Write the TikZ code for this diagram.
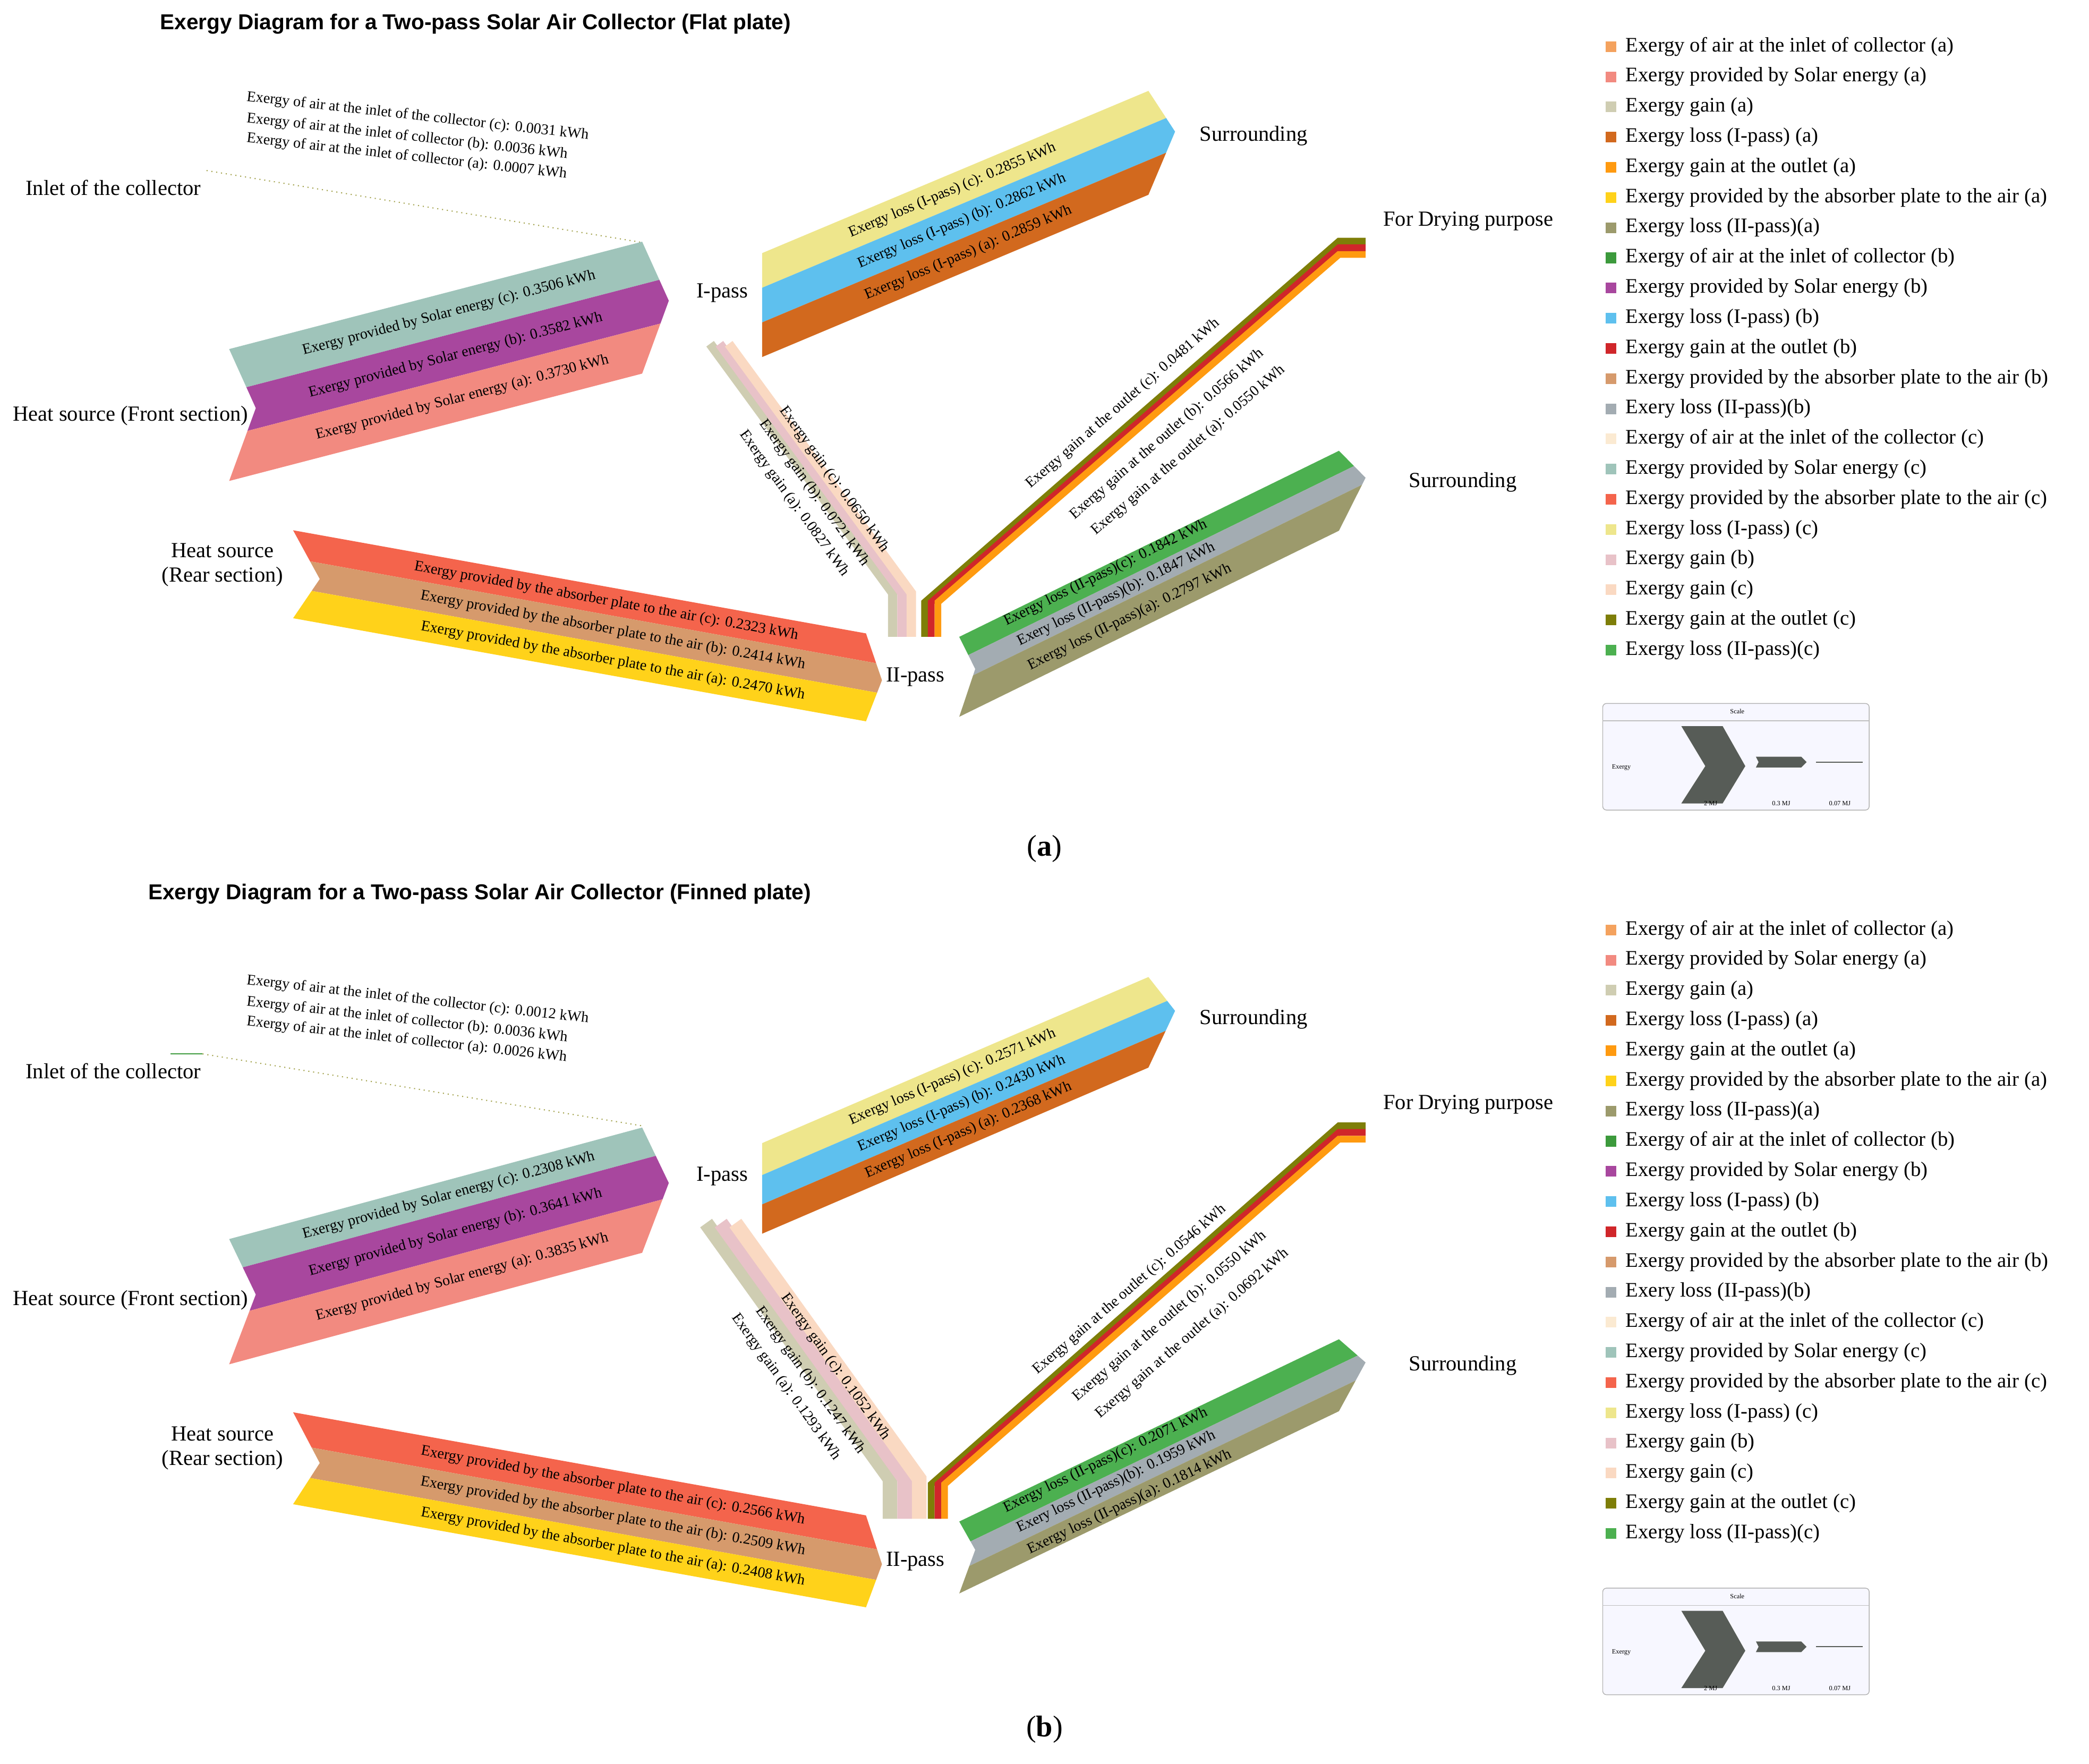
\documentclass[tikz,border=0pt]{standalone}
\usepackage{fontspec}
\setmainfont{Liberation Serif}
\newfontfamily\titlefont{Liberation Sans}
\usetikzlibrary{calc}

\definecolor{cInA}{HTML}{F4A25E}
\definecolor{cSolA}{HTML}{F28A80}
\definecolor{cGainA}{HTML}{CFCDB2}
\definecolor{cLossIA}{HTML}{D2691E}
\definecolor{cOutA}{HTML}{FF9A10}
\definecolor{cAbsA}{HTML}{FFD21A}
\definecolor{cLossIIA}{HTML}{9C9A6C}
\definecolor{cInB}{HTML}{3C9A3C}
\definecolor{cSolB}{HTML}{A8479E}
\definecolor{cLossIB}{HTML}{5EC0EE}
\definecolor{cOutB}{HTML}{D0262A}
\definecolor{cAbsB}{HTML}{D69A6C}
\definecolor{cLossIIB}{HTML}{A3ACB2}
\definecolor{cInC}{HTML}{FBEAD2}
\definecolor{cSolC}{HTML}{9FC4BA}
\definecolor{cAbsC}{HTML}{F4644C}
\definecolor{cLossIC}{HTML}{EEE68C}
\definecolor{cGainB}{HTML}{E8C2C8}
\definecolor{cGainC}{HTML}{FAD9C2}
\definecolor{cOutC}{HTML}{7E7E08}
\definecolor{cLossIIC}{HTML}{4CB050}
\definecolor{cScale}{HTML}{575C57}

% flow bundle: #1 length, #2 total height, #3 notch, #4 tip, #5 height/colour list
\newcommand\flow[5]{%
  \gdef\ycur{0}%
  \foreach \hh/\cc in {#5}{%
    \pgfmathsetmacro\ya{\ycur}%
    \pgfmathsetmacro\yb{\ycur+\hh}%
    \pgfmathsetmacro\ym{max(\ya,min(\yb,#2/2))}%
    \pgfmathsetmacro\xa{1-abs(\ya-#2/2)/(#2/2)}%
    \pgfmathsetmacro\xb{1-abs(\yb-#2/2)/(#2/2)}%
    \pgfmathsetmacro\xm{1-abs(\ym-#2/2)/(#2/2)}%
    \fill[\cc] (#3*\xa,\ya) -- (#1+#4*\xa,\ya) -- (#1+#4*\xm,\ym) -- (#1+#4*\xb,\yb)
      -- (#3*\xb,\yb) -- (#3*\xm,\ym) -- cycle;
    \xdef\ycur{\yb}%
  }}

% legend and scale key of one panel
\newcommand\legendkey[1]{%
  \foreach \col/\txt [count=\i from 0] in {cInA/Exergy of air at the inlet of collector (a),
    cSolA/Exergy provided by Solar energy (a), cGainA/Exergy gain (a),
    cLossIA/Exergy loss (I-pass) (a), cOutA/Exergy gain at the outlet (a),
    cAbsA/Exergy provided by the absorber plate to the air (a), cLossIIA/Exergy loss (II-pass)(a),
    cInB/Exergy of air at the inlet of collector (b), cSolB/Exergy provided by Solar energy (b),
    cLossIB/Exergy loss (I-pass) (b), cOutB/Exergy gain at the outlet (b),
    cAbsB/Exergy provided by the absorber plate to the air (b), cLossIIB/Exery loss (II-pass)(b),
    cInC/Exergy of air at the inlet of the collector (c), cSolC/Exergy provided by Solar energy (c),
    cAbsC/Exergy provided by the absorber plate to the air (c), cLossIC/Exergy loss (I-pass) (c),
    cGainB/Exergy gain (b), cGainC/Exergy gain (c), cOutC/Exergy gain at the outlet (c),
    cLossIIC/Exergy loss (II-pass)(c)}{%
    \node[leg, fill=\col] (sq\i) at (1209,#1+22.65*\i) {};
    \node[legtext] (lt\i) at (1220,#1+22.65*\i) {\txt};
  }}

\newcommand\scalekey[1]{%
  \begin{scope}[yshift=-#1*0.025cm]
    \draw[gray!60, fill=blue!3, rounded corners=2pt] (1203,528) rectangle (1403,608);
    \draw[gray!50] (1203,541) -- (1403,541);
    \node[tiny] (sct) at (1304,534) {Scale};
    \node[tiny] (sce) at (1217,576) {Exergy};
    \fill[cScale] (1262,545) -- (1293,545) -- (1310,575) -- (1293,603) -- (1262,603) -- (1280,575) -- cycle;
    \fill[cScale] (1318,568) -- (1352,568) -- (1356,572) -- (1352,576) -- (1318,576) -- (1320,572) -- cycle;
    \draw[cScale, line width=0.6pt] (1363,572) -- (1398,572);
    \node[tiny] (s1) at (1284,603) {2 MJ};
    \node[tiny] (s2) at (1337,603) {0.3 MJ};
    \node[tiny] (s3) at (1381,603) {0.07 MJ};
  \end{scope}}

\tikzset{
  lab/.style={font=\fontsize{11.5}{13}\selectfont, inner sep=1pt, align=center},
  blab/.style={font=\fontsize{8}{9}\selectfont, inner sep=0pt},
  ilab/.style={font=\fontsize{8}{9}\selectfont, anchor=west, inner sep=0pt, rotate=-6.4},
  title/.style={font=\titlefont\bfseries\fontsize{11.5}{13}\selectfont, anchor=west, inner sep=0pt},
  leg/.style={minimum size=0.2cm, inner sep=0pt},
  legtext/.style={font=\fontsize{11}{12}\selectfont, anchor=west, inner sep=0pt},
  tiny/.style={font=\fontsize{3.5}{4}\selectfont, inner sep=0pt},
  band/.style={line width=#1, line cap=butt, line join=miter},
  inlet/.style={cOutC!70, dotted, line width=0.6pt}
}

\begin{document}
\begin{tikzpicture}[x=0.025cm, y=-0.025cm]
\useasboundingbox (0,0) rectangle (1568,1324);

%%%%%%%% panel (a)
\node[title] (ta) at (120,18) {Exergy Diagram for a Two-pass Solar Air Collector (Flat plate)};

% inlet
\node[ilab] (ia1) at (185,73) {Exergy of air at the inlet of the collector (c): 0.0031 kWh};
\node[ilab] (ia2) at (185,89) {Exergy of air at the inlet of collector (b): 0.0036 kWh};
\node[ilab] (ia3) at (185,104) {Exergy of air at the inlet of collector (a): 0.0007 kWh};
\coordinate (inSa) at (155,128);
\coordinate (inEa) at (482,182);
\draw[inlet] (inSa) -- (inEa);

% front section
\begin{scope}[shift={(172,262)}, yslant=0.26]
  \flow{310}{99}{20}{20}{32/cSolC,33/cSolB,34/cSolA}
  \node[blab, rotate=14.6] (fa1) at (165,16) {Exergy provided by Solar energy (c): 0.3506 kWh};
  \node[blab, rotate=14.6] (fa2) at (170,49) {Exergy provided by Solar energy (b): 0.3582 kWh};
  \node[blab, rotate=14.6] (fa3) at (175,82) {Exergy provided by Solar energy (a): 0.3730 kWh};
\end{scope}

% rear section
\begin{scope}[shift={(220,398)}, yslant=-0.18]
  \flow{430}{66}{20}{12}{21/cAbsC,22/cAbsB,23/cAbsA}
  \node[blab, rotate=-10.2] (ra1) at (235,11) {Exergy provided by the absorber plate to the air (c): 0.2323 kWh};
  \node[blab, rotate=-10.2] (ra2) at (240,32) {Exergy provided by the absorber plate to the air (b): 0.2414 kWh};
  \node[blab, rotate=-10.2] (ra3) at (240,55) {Exergy provided by the absorber plate to the air (a): 0.2470 kWh};
\end{scope}

% I-pass losses
\begin{scope}[shift={(572,190)}, yslant=0.42]
  \flow{290}{78}{0}{20}{26/cLossIC,26/cLossIB,26/cLossIA}
  \node[blab, rotate=22.8] (la1) at (143,13) {Exergy loss (I-pass) (c): 0.2855 kWh};
  \node[blab, rotate=22.8] (la2) at (150,39) {Exergy loss (I-pass) (b): 0.2862 kWh};
  \node[blab, rotate=22.8] (la3) at (155,65) {Exergy loss (I-pass) (a): 0.2859 kWh};
\end{scope}

% II-pass losses
\begin{scope}[shift={(720,478)}, yslant=0.49]
  \flow{285}{60}{12}{20}{17/cLossIIC,17/cLossIIB,26/cLossIIA}
  \node[blab, rotate=26.1] (ma1) at (110,6) {Exergy loss (II-pass)(c): 0.1842 kWh};
  \node[blab, rotate=26.1] (ma2) at (118,26) {Exery loss (II-pass)(b): 0.1847 kWh};
  \node[blab, rotate=26.1] (ma3) at (128,48) {Exergy loss (II-pass)(a): 0.2797 kWh};
\end{scope}

% gain from I-pass to II-pass
\foreach \u/\cc in {0/cGainA,7/cGainB,14/cGainC}{
  \draw[band=5pt, \cc] (533+\u,258) -- (670+\u,445) -- (670+\u,478);
}
\node[blab, rotate=-54] (ga1) at (626,360) {Exergy gain (c): 0.0650 kWh};
\node[blab, rotate=-54] (ga2) at (611,370) {Exergy gain (b): 0.0721 kWh};
\node[blab, rotate=-54] (ga3) at (596,378) {Exergy gain (a): 0.0827 kWh};

% gain at the outlet
\foreach \u/\cc in {0/cOutC,5/cOutB,10/cOutA}{
  \draw[band=3.6pt, \cc] (694+\u,478) -- (694+\u,452) -- (1005,181+\u) -- (1025,181+\u);
}
\node[blab, rotate=41] (oa1) at (843,303) {Exergy gain at the outlet (c): 0.0481 kWh};
\node[blab, rotate=41] (oa2) at (876,326) {Exergy gain at the outlet (b): 0.0566 kWh};
\node[blab, rotate=41] (oa3) at (892,338) {Exergy gain at the outlet (a): 0.0550 kWh};

% names
\node[lab] (inletA) at (85,141) {Inlet of the collector};
\node[lab] (frontA) at (98,312) {Heat source (Front section)};
\node[lab] (rearA) at (167,424) {Heat source\\(Rear section)};
\node[lab] (ipA) at (542,220) {I-pass};
\node[lab] (iipA) at (687,508) {II-pass};
\node[lab] (sur1A) at (941,102) {Surrounding};
\node[lab] (dryA) at (1102,166) {For Drying purpose};
\node[lab] (sur2A) at (1098,362) {Surrounding};
\node[font=\fontsize{16}{17}\selectfont] (capA) at (784,637) {(\textbf{a})};

\legendkey{35}
\scalekey{0}

%%%%%%%% panel (b)
\node[title] (tb) at (111,671) {Exergy Diagram for a Two-pass Solar Air Collector (Finned plate)};

% inlet
\node[ilab] (ib1) at (185,736) {Exergy of air at the inlet of the collector (c): 0.0012 kWh};
\node[ilab] (ib2) at (185,752) {Exergy of air at the inlet of collector (b): 0.0036 kWh};
\node[ilab] (ib3) at (185,767) {Exergy of air at the inlet of collector (a): 0.0026 kWh};
\coordinate (inGb) at (128,791);
\coordinate (inSb) at (152,791);
\coordinate (inEb) at (482,845);
\draw[cInB, line width=0.7pt] (inGb) -- (inSb);
\draw[inlet] (inSb) -- (inEb);

% front section
\begin{scope}[shift={(172,930)}, yslant=0.27]
  \flow{310}{94}{20}{20}{24/cSolC,34/cSolB,36/cSolA}
  \node[blab, rotate=15.1] (fb1) at (165,12) {Exergy provided by Solar energy (c): 0.2308 kWh};
  \node[blab, rotate=15.1] (fb2) at (170,41) {Exergy provided by Solar energy (b): 0.3641 kWh};
  \node[blab, rotate=15.1] (fb3) at (175,76) {Exergy provided by Solar energy (a): 0.3835 kWh};
\end{scope}

% rear section
\begin{scope}[shift={(220,1060)}, yslant=-0.18]
  \flow{430}{69}{20}{12}{24/cAbsC,23/cAbsB,22/cAbsA}
  \node[blab, rotate=-10.2] (rb1) at (240,12) {Exergy provided by the absorber plate to the air (c): 0.2566 kWh};
  \node[blab, rotate=-10.2] (rb2) at (240,35) {Exergy provided by the absorber plate to the air (b): 0.2509 kWh};
  \node[blab, rotate=-10.2] (rb3) at (240,58) {Exergy provided by the absorber plate to the air (a): 0.2408 kWh};
\end{scope}

% I-pass losses
\begin{scope}[shift={(572,858)}, yslant=0.43]
  \flow{290}{68}{0}{20}{24/cLossIC,22/cLossIB,22/cLossIA}
  \node[blab, rotate=23.3] (lb1) at (143,12) {Exergy loss (I-pass) (c): 0.2571 kWh};
  \node[blab, rotate=23.3] (lb2) at (150,35) {Exergy loss (I-pass) (b): 0.2430 kWh};
  \node[blab, rotate=23.3] (lb3) at (155,57) {Exergy loss (I-pass) (a): 0.2368 kWh};
\end{scope}

% II-pass losses
\begin{scope}[shift={(720,1142)}, yslant=0.48]
  \flow{285}{54}{12}{20}{19/cLossIIC,18/cLossIIB,17/cLossIIA}
  \node[blab, rotate=25.6] (mb1) at (110,7) {Exergy loss (II-pass)(c): 0.2071 kWh};
  \node[blab, rotate=25.6] (mb2) at (118,27) {Exery loss (II-pass)(b): 0.1959 kWh};
  \node[blab, rotate=25.6] (mb3) at (128,47) {Exergy loss (II-pass)(a): 0.1814 kWh};
\end{scope}

% gain from I-pass to II-pass
\foreach \u/\cc in {0/cGainA,11/cGainB,22/cGainC}{
  \draw[band=7.8pt, \cc] (530+\u,918) -- (668+\u,1110) -- (668+\u,1140);
}
\node[blab, rotate=-54.3] (gb1) at (627,1026) {Exergy gain (c): 0.1052 kWh};
\node[blab, rotate=-54.3] (gb2) at (608,1036) {Exergy gain (b): 0.1247 kWh};
\node[blab, rotate=-54.3] (gb3) at (590,1041) {Exergy gain (a): 0.1293 kWh};

% gain at the outlet
\foreach \u/\cc in {0/cOutC,5/cOutB,10/cOutA}{
  \draw[band=3.6pt, \cc] (699+\u,1140) -- (699+\u,1114) -- (1005,845+\u) -- (1025,845+\u);
}
\node[blab, rotate=41] (ob1) at (848,968) {Exergy gain at the outlet (c): 0.0546 kWh};
\node[blab, rotate=41] (ob2) at (878,988) {Exergy gain at the outlet (b): 0.0550 kWh};
\node[blab, rotate=41] (ob3) at (895,1001) {Exergy gain at the outlet (a): 0.0692 kWh};

% names
\node[lab] (inletB) at (85,804) {Inlet of the collector};
\node[lab] (frontB) at (98,976) {Heat source (Front section)};
\node[lab] (rearB) at (167,1087) {Heat source\\(Rear section)};
\node[lab] (ipB) at (542,883) {I-pass};
\node[lab] (iipB) at (687,1172) {II-pass};
\node[lab] (sur1B) at (941,765) {Surrounding};
\node[lab] (dryB) at (1102,829) {For Drying purpose};
\node[lab] (sur2B) at (1098,1025) {Surrounding};
\node[font=\fontsize{16}{17}\selectfont] (capB) at (784,1298) {(\textbf{b})};

\legendkey{698}
\scalekey{664}
\end{tikzpicture}
\end{document}
